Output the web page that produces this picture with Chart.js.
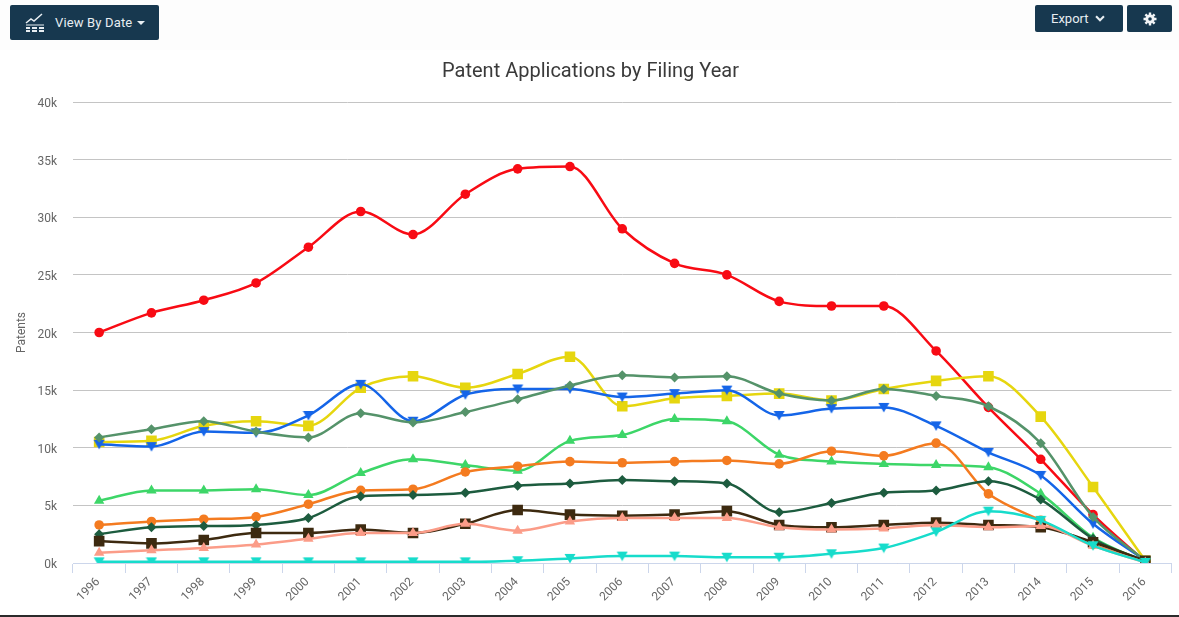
<!DOCTYPE html>
<html lang="en">

<head>
    <meta charset="UTF-8">
    <title>Patent Applications by Filing Year</title>
    <script src="https://cdn.jsdelivr.net/npm/chart.js"></script>
    <style>
        html, body { margin: 0; padding: 0; background: #fff; }
        body { width: 1179px; height: 617px; overflow: hidden; position: relative; font-family: Roboto, sans-serif; }
        .topo { position: absolute; left: 0; top: 0; width: 1179px; height: 50px; background: #fdfdfd; }
        .linha { position: absolute; left: 0; top: 615px; width: 1179px; height: 2px; background: #2b2b2b; }
        .btn { position: absolute; background: #17384f; color: #e8eef2; border-radius: 2px; font-size: 13px; display: flex; align-items: center; box-sizing: border-box; }
        #btn_data { left: 10px; top: 5px; width: 149px; height: 35px; padding-left: 15px; }
        #btn_data span { margin-left: 10px; letter-spacing: 0.15px; }
        #btn_export { left: 1035px; top: 5px; width: 88px; height: 27px; padding-left: 16px; }
        #btn_export svg { margin-left: 6px; }
        #btn_config { left: 1127px; top: 5px; width: 45px; height: 27px; justify-content: center; }
        .seta { width: 0; height: 0; margin-left: 5px; border-left: 4px solid transparent; border-right: 4px solid transparent; border-top: 4px solid #e8eef2; }
        #grafico { position: absolute; left: 0; top: 0; }
    </style>
</head>

<body>
    <div class="topo"></div>
    <canvas id="grafico" width="1179" height="617"></canvas>

    <div class="btn" id="btn_data">
        <svg width="20" height="20" viewBox="0 0 20 20" fill="none" stroke="#e8eef2">
            <path d="M1 10 L6 6 L9 8 L17 1" stroke-width="1.5" />
            <path d="M1 12 H19" stroke-width="1" />
            <path d="M1 15 H5 M7 15 H12 M14 15 H19 M1 18 H5 M7 18 H12 M14 18 H19" stroke-width="2" />
        </svg>
        <span>View By Date</span><div class="seta"></div>
    </div>
    <div class="btn" id="btn_export">Export
        <svg width="10" height="7" viewBox="0 0 11 8" fill="none" stroke="#e8eef2" stroke-width="2.4"><path d="M1 1.5 L5.5 6 L10 1.5" /></svg>
    </div>
    <div class="btn" id="btn_config">
        <svg width="14" height="14" viewBox="0 0 14 14">
            <circle cx="7" cy="7" r="3.2" fill="none" stroke="#f2f5f7" stroke-width="2.8" />
            <path d="M7 0.5 V3 M7 11 V13.5 M0.5 7 H3 M11 7 H13.5 M2.4 2.4 L4.2 4.2 M9.8 9.8 L11.6 11.6 M11.6 2.4 L9.8 4.2 M4.2 9.8 L2.4 11.6" stroke="#f2f5f7" stroke-width="2.4" />
        </svg>
    </div>
    <div class="linha"></div>

<script>
    const anos = ['1996', '1997', '1998', '1999', '2000', '2001', '2002', '2003', '2004', '2005', '2006',
        '2007', '2008', '2009', '2010', '2011', '2012', '2013', '2014', '2015', '2016'];

    // valores, em patentes
    const vermelho = [20000, 21700, 22800, 24300, 27400, 30500, 28500, 32000, 34200, 34400, 29000, 26000, 25000, 22700, 22300, 22300, 18400, 13500, 9000, 4200, 100];
    const amarelo = [10500, 10600, 11900, 12300, 11900, 15200, 16200, 15200, 16400, 17900, 13600, 14300, 14500, 14700, 14100, 15100, 15800, 16200, 12700, 6600, 200];
    const azul = [10300, 10100, 11400, 11300, 12800, 15500, 12300, 14600, 15100, 15100, 14400, 14700, 15000, 12800, 13400, 13500, 11900, 9600, 7600, 3400, 200];
    const verde_cinza = [10900, 11600, 12300, 11400, 10900, 13000, 12200, 13100, 14200, 15400, 16300, 16100, 16200, 14700, 14100, 15100, 14500, 13600, 10400, 4000, 200];
    const verde_claro = [5400, 6300, 6300, 6400, 5900, 7800, 9000, 8500, 8000, 10600, 11100, 12500, 12300, 9400, 8800, 8600, 8500, 8300, 6000, 2200, 100];
    const laranja = [3300, 3600, 3800, 4000, 5100, 6300, 6400, 7900, 8400, 8800, 8700, 8800, 8900, 8600, 9700, 9300, 10400, 6000, 3700, 1600, 100];
    const verde_escuro = [2500, 3100, 3200, 3300, 3900, 5800, 5900, 6100, 6700, 6900, 7200, 7100, 6900, 4400, 5200, 6100, 6300, 7100, 5500, 2100, 100];
    const marrom = [1900, 1700, 2000, 2600, 2600, 2900, 2600, 3400, 4600, 4200, 4100, 4200, 4500, 3300, 3100, 3300, 3500, 3300, 3100, 1800, 200];
    const salmao = [900, 1100, 1300, 1600, 2100, 2600, 2600, 3400, 2800, 3600, 3900, 3900, 3900, 3100, 2900, 3000, 3300, 3100, 3200, 1500, 50];
    const ciano = [100, 100, 100, 100, 100, 100, 100, 100, 200, 400, 600, 600, 500, 500, 800, 1300, 2700, 4500, 3700, 1500, 50];

    function serie(dados, cor, ponto, raio) {
        return {
            data: dados,
            borderColor: cor,
            backgroundColor: cor,
            borderWidth: 2.5,
            pointStyle: ponto,
            pointRadius: raio,
            pointBorderWidth: 0,
            cubicInterpolationMode: 'monotone'
        };
    }

    // triangulo para baixo
    function triangulo_baixo(cor) {
        const c = document.createElement('canvas');
        c.width = 12;
        c.height = 11;
        const ctx = c.getContext('2d');
        ctx.fillStyle = cor;
        ctx.beginPath();
        ctx.moveTo(0.5, 1);
        ctx.lineTo(11.5, 1);
        ctx.lineTo(6, 10.5);
        ctx.closePath();
        ctx.fill();
        return c;
    }

    const configLinha = {
        type: 'line',
        data: {
            labels: anos,
            datasets: [
                serie(vermelho, '#f80b14', 'circle', 4.8),
                serie(amarelo, '#e6d60f', 'rect', 7.5),
                serie(azul, '#1565e8', triangulo_baixo('#1565e8'), 5),
                serie(verde_cinza, '#55936a', 'rectRot', 5),
                serie(verde_claro, '#3dd668', 'triangle', 6),
                serie(laranja, '#f47b20', 'circle', 4.8),
                serie(verde_escuro, '#1d5c3f', 'rectRot', 5),
                serie(marrom, '#3d2a10', 'rect', 7.5),
                serie(salmao, '#fb9c88', 'triangle', 6),
                serie(ciano, '#17dccb', triangulo_baixo('#17dccb'), 5)
            ].reverse().map(function (d, i) { d.order = i; return d; })
        },
        options: {
            responsive: false,
            animation: false,
            layout: { padding: { left: 9, right: 7, top: 0, bottom: 0 } },
            plugins: {
                legend: { display: false },
                tooltip: { enabled: false },
                title: {
                    display: true,
                    text: 'Patent Applications by Filing Year',
                    color: '#3a3a3a',
                    font: { family: 'Roboto', size: 20, weight: 'normal' },
                    padding: { top: 60, bottom: 18 }
                }
            },
            scales: {
                x: {
                    offset: true,
                    grid: {
                        offset: true,
                        drawOnChartArea: false,
                        drawTicks: true,
                        tickLength: 10,
                        color: '#ccd6eb'
                    },
                    border: { color: '#ccd6eb' },
                    ticks: {
                        color: '#666',
                        font: { family: 'Roboto', size: 12 },
                        minRotation: 45,
                        maxRotation: 45,
                        autoSkip: false,
                        padding: 2,
                        labelOffset: -1
                    },
                    afterFit: function (eixo) { eixo.height = 54; }
                },
                y: {
                    min: 0,
                    max: 40000,
                    grid: {
                        color: '#c4c4c4',
                        drawTicks: false
                    },
                    border: { display: false },
                    ticks: {
                        stepSize: 5000,
                        color: '#666',
                        font: { family: 'Roboto', size: 12 },
                        padding: 16,
                        labelOffset: 2,
                        callback: function (valor) { return valor === 0 ? '0k' : (valor / 1000) + 'k'; }
                    },
                    title: {
                        display: true,
                        text: 'Patents',
                        color: '#666',
                        font: { family: 'Roboto', size: 12 },
                        padding: { top: 6, bottom: 0 }
                    },
                    afterFit: function (eixo) { eixo.width = 64; }
                }
            }
        }
    };

    var meuGrafico = new Chart(document.getElementById('grafico'), configLinha);
</script>
</body>

</html>
